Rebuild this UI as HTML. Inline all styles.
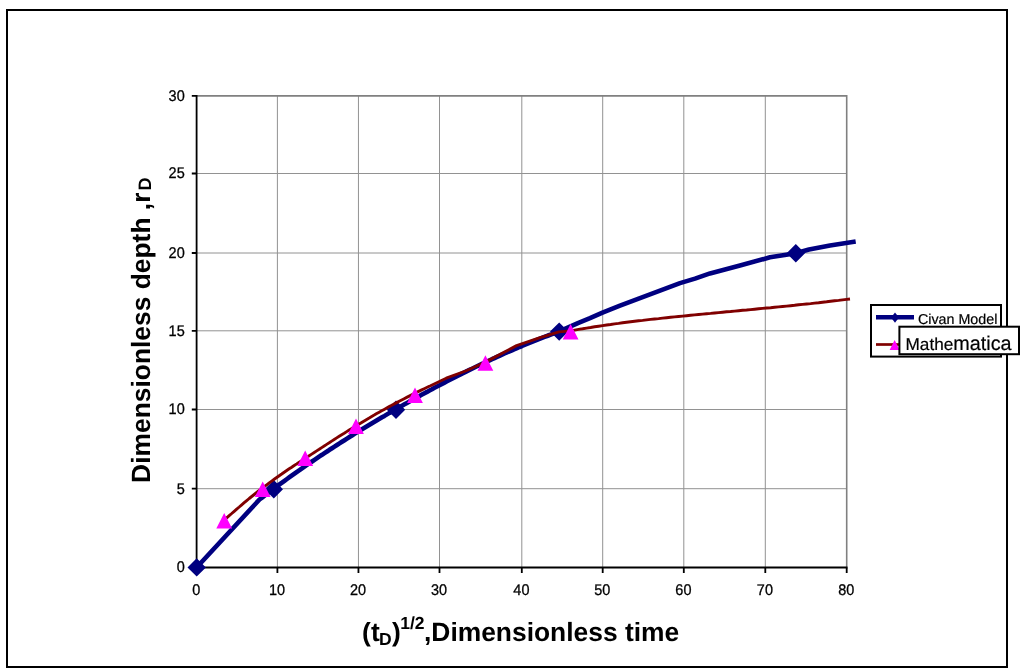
<!DOCTYPE html>
<html><head><meta charset="utf-8"><style>
html,body{margin:0;padding:0;background:#fff;overflow:hidden;}
svg{display:block;will-change:transform;}
text{font-family:"Liberation Sans",sans-serif;text-rendering:geometricPrecision;}
</style></head><body>
<svg width="1024" height="670" viewBox="0 0 1024 670">
<rect x="0" y="0" width="1024" height="670" fill="#fff"/>
<rect x="7" y="10" width="1000" height="657" fill="#fff" stroke="#000" stroke-width="2"/>
<path d="M277.4 95.9V567.5 M358.45 95.9V567.5 M439.5 95.9V567.5 M521.8 95.9V567.5 M602.7 95.9V567.5 M683.8 95.9V567.5 M765.3 95.9V567.5 M196.6 488.7H846.7 M196.6 409.5H846.7 M196.6 330.8H846.7 M196.6 253.0H846.7 M196.6 173.5H846.7" fill="none" stroke="#929292" stroke-width="1"/>
<path d="M196.6 95.9H846.7V567.5" fill="none" stroke="#808080" stroke-width="1.6"/>
<path d="M196.6 567.5V573.1 M277.4 567.5V573.1 M358.45 567.5V573.1 M439.5 567.5V573.1 M521.8 567.5V573.1 M602.7 567.5V573.1 M683.8 567.5V573.1 M765.3 567.5V573.1 M846.7 567.5V573.1 M191.79999999999998 567.5H196.6 M191.79999999999998 488.7H196.6 M191.79999999999998 409.5H196.6 M191.79999999999998 330.8H196.6 M191.79999999999998 253.0H196.6 M191.79999999999998 173.5H196.6 M191.79999999999998 95.9H196.6" fill="none" stroke="#000" stroke-width="1.8"/>
<path d="M196.6 95.10000000000001V568.5" fill="none" stroke="#000" stroke-width="1.8"/>
<path d="M195.7 567.5H847.5" fill="none" stroke="#000" stroke-width="2.2"/>
<g font-size="15.4" fill="#000" stroke="#000" stroke-width="0.3"><text transform="translate(196.2,595.2) scale(0.94,1)" text-anchor="middle">0</text><text transform="translate(277.0,595.2) scale(0.94,1)" text-anchor="middle">10</text><text transform="translate(358.1,595.2) scale(0.94,1)" text-anchor="middle">20</text><text transform="translate(439.1,595.2) scale(0.94,1)" text-anchor="middle">30</text><text transform="translate(521.4,595.2) scale(0.94,1)" text-anchor="middle">40</text><text transform="translate(602.3,595.2) scale(0.94,1)" text-anchor="middle">50</text><text transform="translate(683.4,595.2) scale(0.94,1)" text-anchor="middle">60</text><text transform="translate(764.9,595.2) scale(0.94,1)" text-anchor="middle">70</text><text transform="translate(846.3,595.2) scale(0.94,1)" text-anchor="middle">80</text><text transform="translate(184.7,572.4) scale(0.94,1)" text-anchor="end">0</text><text transform="translate(184.7,493.6) scale(0.94,1)" text-anchor="end">5</text><text transform="translate(184.7,414.4) scale(0.94,1)" text-anchor="end">10</text><text transform="translate(184.7,335.7) scale(0.94,1)" text-anchor="end">15</text><text transform="translate(184.7,257.9) scale(0.94,1)" text-anchor="end">20</text><text transform="translate(184.7,178.4) scale(0.94,1)" text-anchor="end">25</text><text transform="translate(184.7,100.8) scale(0.94,1)" text-anchor="end">30</text></g>
<polyline points="196.6,567.5 259.5,499.5 262.0,497.6 264.5,495.6 267.0,493.7 269.5,491.9 272.0,490.0 274.5,488.1 277.0,486.3 279.5,484.4 282.0,482.6 284.5,480.8 287.0,479.0 289.5,477.2 292.0,475.4 294.5,473.6 297.0,471.8 299.5,470.1 302.0,468.3 304.5,466.6 307.0,464.9 309.5,463.2 312.0,461.5 314.5,459.8 317.0,458.1 319.5,456.4 322.0,454.8 324.5,453.1 327.0,451.5 329.5,449.8 332.0,448.2 334.5,446.6 337.0,445.0 339.5,443.4 342.0,441.8 344.5,440.2 347.0,438.6 349.5,437.0 352.0,435.5 354.5,433.9 357.0,432.4 359.5,430.9 362.0,429.3 364.5,427.8 367.0,426.3 369.5,424.8 372.0,423.3 374.5,421.8 377.0,420.3 379.5,418.8 382.0,417.3 384.5,415.9 387.0,414.4 389.5,412.9 392.0,411.5 394.5,410.0 397.0,408.6 399.5,407.2 402.0,405.7 404.5,404.3 407.0,402.9 409.5,401.5 412.0,400.1 414.5,398.7 417.0,397.3 419.5,396.0 422.0,394.6 424.5,393.2 427.0,391.9 429.5,390.5 432.0,389.2 434.5,387.8 437.0,386.5 439.5,385.2 442.0,383.9 444.5,382.6 447.0,381.3 449.5,380.0 452.0,378.7 454.5,377.4 457.0,376.1 459.5,374.9 462.0,373.6 464.5,372.4 467.0,371.1 469.5,369.9 472.0,368.7 474.5,367.5 477.0,366.3 479.5,365.1 482.0,363.9 484.5,362.7 487.0,361.5 489.5,360.4 492.0,359.2 494.5,358.1 497.0,356.9 499.5,355.8 502.0,354.7 504.5,353.5 507.0,352.4 509.5,351.3 512.0,350.3 514.5,349.2 517.0,348.1 519.5,347.0 522.0,346.0 524.5,344.9 527.0,343.9 529.5,342.9 532.0,341.9 534.5,340.9 537.0,339.9 539.5,338.9 542.0,337.9 544.5,336.9 547.0,336.0 549.5,335.0 552.0,334.1 554.5,333.1 557.0,332.2 559.2,331.4 577.9,323.1 590.0,318.1 602.5,312.6 620.0,305.6 650.0,294.3 680.0,283.1 695.0,278.6 710.0,273.4 740.0,265.6 770.0,257.3 787.9,254.4 795.7,253.3 809.0,249.5 830.0,245.5 855.7,241.5" fill="none" stroke="#000080" stroke-width="4.6" stroke-linejoin="round" stroke-linecap="butt"/>
<path d="M196.7 558.2L205.9 567.4L196.7 576.6L187.5 567.4Z M273.8 480.0L283.0 489.2L273.8 498.4L264.6 489.2Z M396.0 400.6L405.2 409.8L396.0 419.0L386.8 409.8Z M559.2 322.4L568.4 331.6L559.2 340.8L550.0 331.6Z M795.8 244.1L805.0 253.3L795.8 262.5L786.6 253.3Z" fill="#000080"/>
<polyline points="224.2,520.0 226.7,517.8 229.2,515.6 231.7,513.5 234.2,511.3 236.7,509.1 239.2,507.0 241.7,504.8 244.2,502.7 246.7,500.6 249.2,498.5 251.7,496.5 254.2,494.5 256.7,492.5 259.2,490.5 261.7,488.6 264.2,486.7 266.7,484.8 269.2,482.9 271.7,481.1 274.2,479.3 276.7,477.5 279.2,475.7 281.7,474.0 284.2,472.2 286.7,470.5 289.2,468.8 291.7,467.2 294.2,465.5 296.7,463.9 299.2,462.2 301.7,460.6 304.2,459.0 306.7,457.4 309.2,455.7 311.7,454.1 314.2,452.5 316.7,450.9 319.2,449.3 321.7,447.6 324.2,446.0 326.7,444.4 329.2,442.8 331.7,441.1 334.2,439.5 336.7,437.9 339.2,436.3 341.7,434.7 344.2,433.2 346.7,431.6 349.2,430.0 351.7,428.5 354.2,426.9 356.7,425.4 359.2,423.9 361.7,422.4 364.2,420.9 366.7,419.4 369.2,418.0 371.7,416.5 374.2,415.1 376.7,413.6 379.2,412.2 381.7,410.8 384.2,409.4 386.7,408.0 389.2,406.6 391.7,405.3 394.2,403.9 396.7,402.6 399.2,401.3 401.7,400.0 404.2,398.7 406.7,397.4 409.2,396.1 411.7,394.8 414.2,393.6 416.7,392.3 419.2,391.1 421.7,389.9 424.2,388.7 426.7,387.5 429.2,386.3 430.0,386.0 446.2,378.2 465.6,371.0 484.9,362.4 516.6,345.6 540.0,337.6 559.0,331.9 565.0,331.4 570.6,330.9 574.6,330.1 578.6,329.4 582.6,328.8 586.6,328.1 590.6,327.5 594.6,326.8 598.6,326.2 602.6,325.6 606.6,325.0 610.6,324.5 614.6,323.9 618.6,323.4 622.6,322.8 626.6,322.3 630.6,321.8 634.6,321.3 638.6,320.8 642.6,320.4 646.6,319.9 650.6,319.4 654.6,319.0 658.6,318.6 662.6,318.1 666.6,317.7 670.6,317.3 674.6,316.9 678.6,316.5 682.6,316.1 686.6,315.7 690.6,315.3 694.6,314.9 698.6,314.5 702.6,314.1 706.6,313.7 710.6,313.4 714.6,313.0 718.6,312.6 722.6,312.2 726.6,311.8 730.6,311.5 734.6,311.1 738.6,310.7 742.6,310.3 746.6,310.0 750.6,309.6 754.6,309.2 758.6,308.8 762.6,308.4 766.6,308.0 770.6,307.7 774.6,307.3 778.6,306.9 782.6,306.5 786.6,306.1 790.6,305.7 794.6,305.3 798.6,304.8 802.6,304.4 806.6,304.0 810.6,303.6 814.6,303.1 818.6,302.7 822.6,302.2 826.6,301.8 830.6,301.3 834.6,300.8 838.6,300.4 842.6,299.9 846.6,299.4 850.0,299.0" fill="none" stroke="#800000" stroke-width="2.9" stroke-linejoin="round" stroke-linecap="butt"/>
<path d="M224.2 513.1L232.1 528.6L216.3 528.6Z M262.7 481.6L270.6 497.1L254.8 497.1Z M305.2 450.4L313.1 465.9L297.3 465.9Z M356.0 418.6L363.9 434.1L348.1 434.1Z M415.0 387.4L422.9 402.9L407.1 402.9Z M485.4 355.3L493.3 370.8L477.5 370.8Z M570.6 323.9L578.5 339.4L562.7 339.4Z" fill="#ff00ff"/>
<text transform="translate(149.5,482.9) rotate(-90)" font-size="26.4" font-weight="bold" fill="#000">Dimensionless depth ,r<tspan font-size="18" dx="2" dy="1.5">D</tspan></text>
<g fill="#000" font-weight="bold" font-size="26.4">
<text x="362.1" y="641">(t</text>
<text x="379.0" y="645" font-size="17.5">D</text>
<text x="392.1" y="641">)</text>
<text x="400.2" y="628.6" font-size="17.5">1/2</text>
<text x="424" y="641">,Dimensionless time</text>
</g>
<rect x="871" y="305" width="130" height="51.6" fill="#fff" stroke="#000" stroke-width="2"/>
<path d="M876 317.3H914" stroke="#000080" stroke-width="4.4"/>
<path d="M895 312.6L899 317.6L895 322.8L891 317.6Z" fill="#000080"/>
<text x="917.9" y="323.6" font-size="14.3" fill="#000" stroke="#000" stroke-width="0.2">Civan Model</text>
<path d="M876 344.5H900" stroke="#800000" stroke-width="2.7"/>
<path d="M894.6 340L899.6 350L889.6 350Z" fill="#ff00ff"/>
<rect x="899.4" y="326.7" width="119.6" height="27.5" fill="#fff" stroke="#000" stroke-width="2"/>
<text x="905.5" y="349.6" font-size="17.2" fill="#000" stroke="#000" stroke-width="0.2">Mathe<tspan font-size="19.8">matica</tspan></text>
</svg>
</body></html>
